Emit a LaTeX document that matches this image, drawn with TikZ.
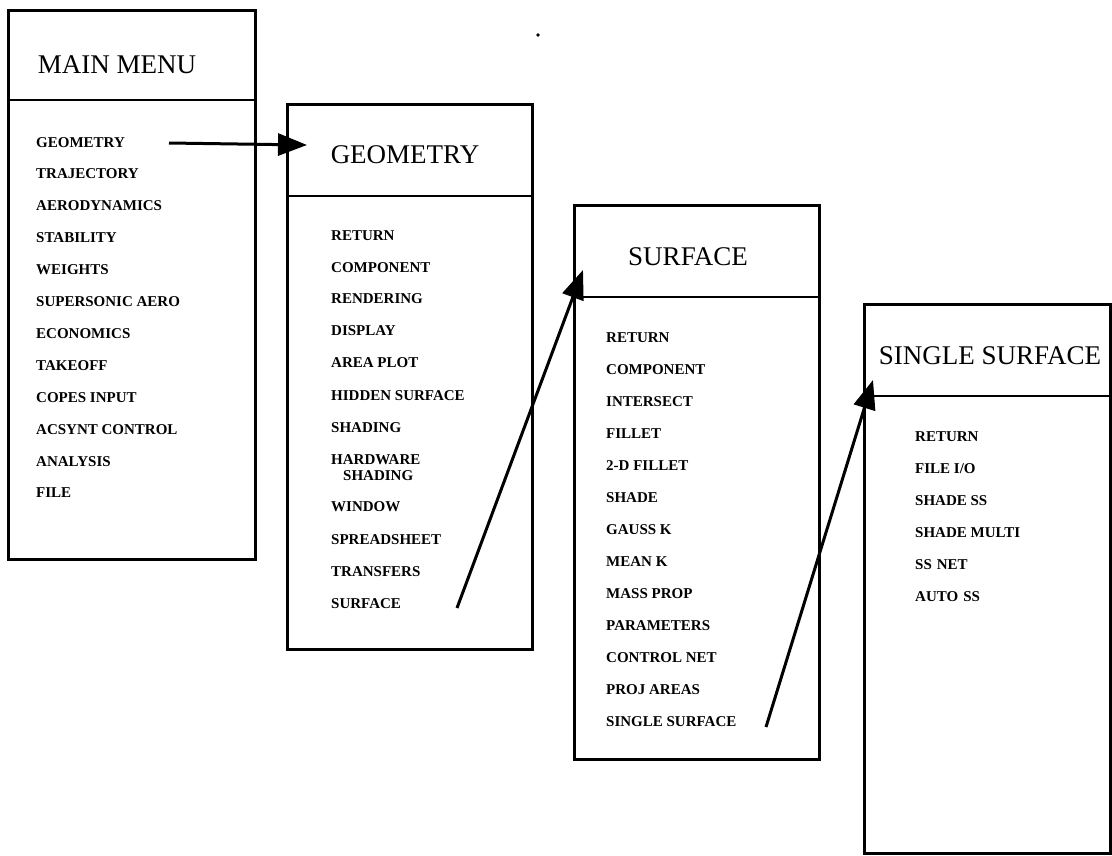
\documentclass[tikz,border=0pt]{standalone}
\usepackage{fontspec}
\setmainfont{Liberation Serif}
\usetikzlibrary{arrows.meta}
\begin{document}
\begin{tikzpicture}[x=1pt,y=-1pt,
  menubox/.style={draw,line width=2.8pt,anchor=north west,inner sep=0pt},
  divider/.style={line width=2.8pt},
  title/.style={anchor=base,inner sep=0pt,font=\fontsize{27}{30}\selectfont},
  item/.style={anchor=base west,inner sep=0pt,font=\bfseries\fontsize{15}{17}\selectfont},
  link/.style={line width=3pt,-{Triangle[length=29pt,width=22pt]}}]
\useasboundingbox (0,0) rectangle (1112,855);
\fill (538,35) circle (1.8pt);

% Main menu
\node[menubox,minimum width=247pt,minimum height=549pt] (mainbox) at (7,9) {};
\draw[divider] (7,100) -- (254,100);
\node[title] (maint) at (117,73) {MAIN MENU};
\foreach \t [count=\i] in {GEOMETRY,TRAJECTORY,AERODYNAMICS,STABILITY,WEIGHTS,SUPERSONIC AERO,ECONOMICS,TAKEOFF,COPES INPUT,ACSYNT CONTROL,ANALYSIS,FILE}
  \node[item] (m\i) at (36,{147+(\i-1)*31.9}) {\t};

% Geometry menu
\node[menubox,minimum width=245pt,minimum height=545pt] (geobox) at (286,103) {};
\draw[divider] (286,196) -- (531,196);
\node[title] (geot) at (405,163) {GEOMETRY};
\foreach \t/\y [count=\i] in {RETURN/240,COMPONENT/272,RENDERING/303,DISPLAY/335,AREA PLOT/367,HIDDEN SURFACE/400,SHADING/432,HARDWARE/464,WINDOW/511,SPREADSHEET/544,TRANSFERS/576,SURFACE/608}
  \node[item] (g\i) at (331,\y) {\t};
\node[item] (g8b) at (343,480) {SHADING};

% Surface menu
\node[menubox,minimum width=245pt,minimum height=554pt] (surfbox) at (573,204) {};
\draw[divider] (573,297) -- (818,297);
\node[title] (surft) at (688,265) {SURFACE};
\foreach \t [count=\i] in {RETURN,COMPONENT,INTERSECT,FILLET,2-D FILLET,SHADE,GAUSS K,MEAN K,MASS PROP,PARAMETERS,CONTROL NET,PROJ AREAS,SINGLE SURFACE}
  \node[item] (s\i) at (606,{342+(\i-1)*32}) {\t};

% Single surface menu
\node[menubox,minimum width=246pt,minimum height=549pt] (ssbox) at (863,303) {};
\draw[divider] (863,396) -- (1109,396);
\node[title] (sst) at (990,364) {SINGLE SURFACE};
\foreach \t [count=\i] in {RETURN,FILE I/O,SHADE SS,SHADE MULTI,SS\hspace{5pt}NET,AUTO\hspace{5pt}SS}
  \node[item] (ss\i) at (915,{441+(\i-1)*32}) {\t};

% Connectors between the menus
\coordinate (a1s) at (169,143);
\coordinate (a1e) at (307,145);
\coordinate (a2s) at (457,608);
\coordinate (a2e) at (583,270);
\coordinate (a3s) at (766,727);
\coordinate (a3e) at (873,380);
\draw[link] (a1s) -- (a1e);
\draw[link] (a2s) -- (a2e);
\draw[link] (a3s) -- (a3e);
\end{tikzpicture}
\end{document}
